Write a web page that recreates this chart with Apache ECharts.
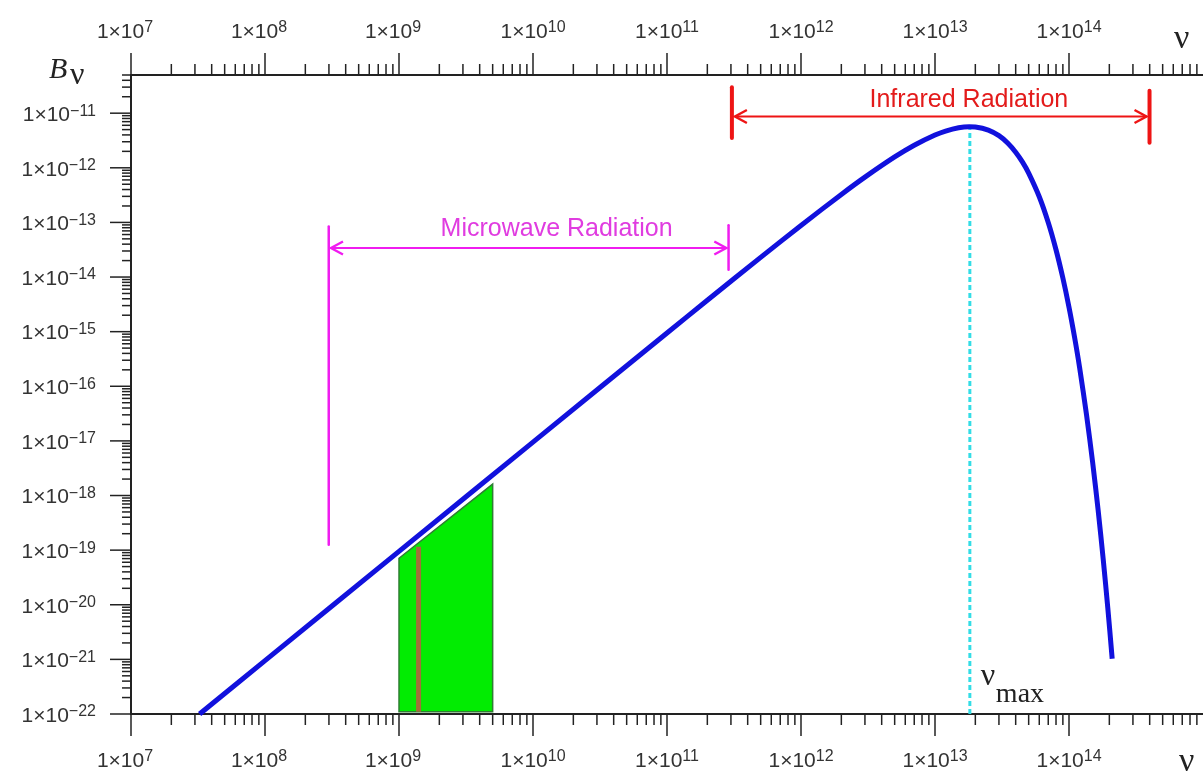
<!DOCTYPE html>
<html>
<head>
<meta charset="utf-8">
<script src="https://cdn.jsdelivr.net/npm/echarts@6/dist/echarts.min.js"></script>
<style>
  html, body { margin: 0; padding: 0; background: #ffffff; }
  #chart { width: 1203px; height: 774px; }
</style>
</head>
<body>
<div id="chart"></div>
<script>
// Spectral radiance B_nu of a body near 310 K against frequency nu (Hz), log-log.
const nuCurve = [3.25e7, 1e8, 1e9, 1e10, 1e11, 2e11, 5e11, 1e12, 2e12, 3e12, 5e12, 7e12,
  1e13, 1.2e13, 1.5e13, 1.8e13, 2e13, 2.5e13, 3e13, 3.5e13, 4e13, 4.5e13, 5e13, 6e13,
  7e13, 8e13, 9e13, 1e14, 1.1e14, 1.2e14, 1.35e14, 1.5e14, 1.65e14, 1.8e14, 1.95e14, 2.1e14];
const bCurve = [1.0e-22, 9.5e-22, 9.5e-20, 9.5e-18, 9.45e-16, 3.75e-15, 2.29e-14, 8.8e-14,
  3.25e-13, 6.74e-13, 1.58e-12, 2.59e-12, 3.98e-12, 4.71e-12, 5.41e-12, 5.65e-12, 5.59e-12,
  4.91e-12, 3.87e-12, 2.82e-12, 1.93e-12, 1.27e-12, 8.0e-13, 2.95e-13, 9.96e-14, 3.16e-14,
  9.58e-15, 2.80e-15, 7.92e-16, 2.19e-16, 3.05e-17, 4.11e-18, 5.37e-19, 6.82e-20, 8.48e-21,
  1.03e-21];

// Axis extents and labelled decades
const nuRange = [1e7, 1e15];
const bRange = [1e-22, 5e-11];
const nuDecades = [7, 8, 9, 10, 11, 12, 13, 14];
const bDecades = [-22, -21, -20, -19, -18, -17, -16, -15, -14, -13, -12, -11];

// Peak frequency marker
const nuPeak = [1.82e13];
const bPeakSpan = [1e-22, 5.65e-12];

// Infrared band: frequencies, arrow level, end-bar spans, caption anchor
const irNu = [3.05e11, 3.99e14];
const irArrowB = [8.7e-12];
const irBarLeft = [3.5e-12, 2.97e-11];
const irBarRight = [2.88e-12, 2.58e-11];
const irCaption = [1.79e13, 1.75e-11];

// Microwave band
const mwNu = [2.99e8, 2.88e11];
const mwArrowB = [3.4e-14];
const mwBarLeft = [1.25e-19, 8.4e-14];
const mwBarRight = [1.36e-14, 8.9e-14];
const mwCaption = [1.5e10, 7.65e-14];

// Radio window patch and the 21 cm line
const patchNu = [1e9, 5e9];
const patchTop = [7.1e-20, 1.62e-18];
const patchFloor = [1.1e-22];
const hLineNu = [1.4e9];
const hLineB = [1.1e-22, 1.15e-19];

// ECharts rounds log-axis extents to 20 decimals, so radiance goes onto the
// axis in units of 1e-12; the tick labels convert back.
const bUnit = 1e12;
function by(b) { return b * bUnit; }
function pt(nu, b) { return [nu, by(b)]; }

const tickFont = 'Liberation Sans, Arial, sans-serif';
const serif = '"Liberation Serif", "Times New Roman", serif';

function powText(v) {
  const lg = Math.log10(v);
  const e = Math.round(lg);
  if (Math.abs(lg - e) > 1e-6 || e >= 15) return '';
  const exp = e < 0 ? '\u2212' + (-e) : String(e);
  return '{m|1\u00d710}{' + (exp.length === 1 ? 'p1' : 'p') + '|' + exp + '}';
}
function nuLabel(v) { return powText(v); }
function bLabel(v) { return powText(v / bUnit); }

const labelRich = {
  m: { fontSize: 21, lineHeight: 24, fontFamily: tickFont, color: '#333' },
  p: { fontSize: 16, lineHeight: 12, verticalAlign: 'top', fontFamily: tickFont, color: '#333' },
  p1: { fontSize: 16, lineHeight: 12, verticalAlign: 'top', fontFamily: tickFont, color: '#333', padding: [0, 12, 0, 0] }
};

// Tick marks (decade ticks long, 2..9 ticks short) for the three drawn axes
const tickItems = [];
for (let k = 7; k <= 14; k++) {
  for (let m = 1; m <= 9; m++) {
    const v = m * Math.pow(10, k);
    const len = m === 1 ? 22 : 11;
    tickItems.push([v, by(bRange[0]), 0, len]);
    tickItems.push([v, by(bRange[1]), 1, len]);
  }
}
for (let k = -22; k <= -11; k++) {
  for (let m = 1; m <= 9; m++) {
    const v = m * Math.pow(10, k);
    if (v > bRange[1] * 1.0001) continue;
    tickItems.push([nuRange[0], by(v), 2, m === 1 ? 21 : 9]);
  }
}

function bandSeries(nu, arrowB, barL, barR, caption, text, color, textColor, barW) {
  return {
    type: 'custom',
    silent: true,
    z: 6,
    data: [pt(nu[0], arrowB[0])],
    renderItem: function (params, api) {
      const a = api.coord(pt(nu[0], arrowB[0]));
      const b = api.coord(pt(nu[1], arrowB[0]));
      const l0 = api.coord(pt(nu[0], barL[0]));
      const l1 = api.coord(pt(nu[0], barL[1]));
      const r0 = api.coord(pt(nu[1], barR[0]));
      const r1 = api.coord(pt(nu[1], barR[1]));
      const t = api.coord(pt(caption[0], caption[1]));
      const ax = a[0] + barW / 2 + 1;
      const bx = b[0] - barW / 2 - 1;
      const head = 12, half = 6.5;
      return {
        type: 'group',
        children: [
          { type: 'line', shape: { x1: l0[0], y1: l0[1], x2: l1[0], y2: l1[1] },
            style: { stroke: color, lineWidth: barW, lineCap: 'round' } },
          { type: 'line', shape: { x1: r0[0], y1: r0[1], x2: r1[0], y2: r1[1] },
            style: { stroke: color, lineWidth: barW, lineCap: 'round' } },
          { type: 'line', shape: { x1: ax, y1: a[1], x2: bx, y2: b[1] },
            style: { stroke: color, lineWidth: 2 } },
          { type: 'polyline', shape: { points: [[ax + head, a[1] - half], [ax, a[1]], [ax + head, a[1] + half]] },
            style: { stroke: color, lineWidth: 2.4, fill: null } },
          { type: 'polyline', shape: { points: [[bx - head, b[1] - half], [bx, b[1]], [bx - head, b[1] + half]] },
            style: { stroke: color, lineWidth: 2.4, fill: null } },
          { type: 'text', x: t[0], y: t[1],
            style: { text: text, fill: textColor, font: '25px ' + tickFont, align: 'center', verticalAlign: 'middle' } }
        ]
      };
    }
  };
}

const chart = echarts.init(document.getElementById('chart'), null, { renderer: 'canvas' });

chart.setOption({
  backgroundColor: '#ffffff',
  animation: false,
  grid: { left: 131, top: 75, width: 1075, height: 639 },
  xAxis: [
    {
      type: 'log', logBase: 10, min: nuRange[0], max: nuRange[1], splitNumber: 8,
      position: 'bottom',
      axisLine: { show: true, lineStyle: { color: '#222', width: 2 } },
      axisTick: { show: false },
      splitLine: { show: false },
      axisLabel: { margin: 35, formatter: nuLabel, rich: labelRich, hideOverlap: false,
        customValues: nuDecades.map(function (e) { return Math.pow(10, e); }) }
    },
    {
      type: 'log', logBase: 10, min: nuRange[0], max: nuRange[1], splitNumber: 8,
      position: 'top',
      axisLine: { show: true, lineStyle: { color: '#222', width: 2 } },
      axisTick: { show: false },
      splitLine: { show: false },
      axisLabel: { margin: 31, formatter: nuLabel, rich: labelRich, hideOverlap: false,
        customValues: nuDecades.map(function (e) { return Math.pow(10, e); }) }
    }
  ],
  yAxis: [
    {
      type: 'log', logBase: 10, min: by(bRange[0]), max: by(bRange[1]),
      axisLine: { show: true, lineStyle: { color: '#222', width: 2 } },
      axisTick: { show: false },
      splitLine: { show: false },
      axisLabel: { margin: 35, formatter: bLabel, rich: labelRich, hideOverlap: false,
        padding: [4, 0, 0, 0],
        customValues: bDecades.map(function (e) { return by(Math.pow(10, e)); }) }
    }
  ],
  graphic: [
    { type: 'text', left: 49, top: 55, style: { text: 'B', font: 'italic 30px ' + serif, fill: '#222' } },
    { type: 'text', left: 70, top: 60, style: { text: '\u03bd', font: '32px ' + serif, fill: '#222' } },
    { type: 'text', left: 1174, top: 22, style: { text: '\u03bd', font: '34px ' + serif, fill: '#222' } },
    { type: 'text', left: 1179, top: 745, style: { text: '\u03bd', font: '34px ' + serif, fill: '#222' } }
  ],
  series: [
    {
      type: 'custom',
      silent: true,
      z: 1,
      data: tickItems,
      renderItem: function (params, api) {
        const p = api.coord([api.value(0), api.value(1)]);
        const kind = api.value(2);
        const len = api.value(3);
        let x2 = p[0], y2 = p[1];
        if (kind === 0) y2 += len;
        else if (kind === 1) y2 -= len;
        else x2 -= len;
        return { type: 'line', shape: { x1: p[0], y1: p[1], x2: x2, y2: y2 },
          style: { stroke: '#222', lineWidth: 1.5 } };
      }
    },
    {
      type: 'custom',
      silent: true,
      z: 2,
      data: [pt(patchNu[0], patchTop[0])],
      renderItem: function (params, api) {
        const pts = [
          api.coord(pt(patchNu[0], patchFloor[0])),
          api.coord(pt(patchNu[0], patchTop[0])),
          api.coord(pt(patchNu[1], patchTop[1])),
          api.coord(pt(patchNu[1], patchFloor[0]))
        ];
        return { type: 'polygon', shape: { points: pts },
          style: { fill: '#02ec02', stroke: '#2e7d32', lineWidth: 1.5 } };
      }
    },
    {
      type: 'line',
      silent: true,
      z: 3,
      data: [pt(hLineNu[0], hLineB[0]), pt(hLineNu[0], hLineB[1])],
      symbol: 'none',
      lineStyle: { color: '#a0703a', width: 5, cap: 'butt' }
    },
    {
      type: 'line',
      silent: true,
      z: 3,
      data: [pt(nuPeak[0], bPeakSpan[0]), pt(nuPeak[0], bPeakSpan[1])],
      symbol: 'none',
      lineStyle: { color: '#33dde6', width: 3, type: [5, 3] }
    },
    {
      type: 'custom',
      silent: true,
      z: 4,
      data: [pt(nuPeak[0], bPeakSpan[0])],
      renderItem: function (params, api) {
        const p = api.coord(pt(nuPeak[0], bPeakSpan[0]));
        return {
          type: 'group',
          children: [
            { type: 'text', x: p[0] + 11, y: p[1] - 37,
              style: { text: '\u03bd', font: '32px ' + serif, fill: '#222', align: 'left', verticalAlign: 'middle' } },
            { type: 'text', x: p[0] + 26, y: p[1] - 19,
              style: { text: 'max', font: '28px ' + serif, fill: '#222', align: 'left', verticalAlign: 'middle' } }
          ]
        };
      }
    },
    {
      type: 'line',
      silent: true,
      z: 5,
      data: nuCurve.map(function (v, i) { return pt(v, bCurve[i]); }),
      symbol: 'none',
      smooth: 0.3,
      lineStyle: { color: '#1111dd', width: 5 }
    },
    bandSeries(irNu, irArrowB, irBarLeft, irBarRight, irCaption, 'Infrared Radiation', '#ee1414', '#e31b1b', 4),
    bandSeries(mwNu, mwArrowB, mwBarLeft, mwBarRight, mwCaption, 'Microwave Radiation', '#f01cf0', '#e03ce0', 2.5)
  ]
});
</script>
</body>
</html>
